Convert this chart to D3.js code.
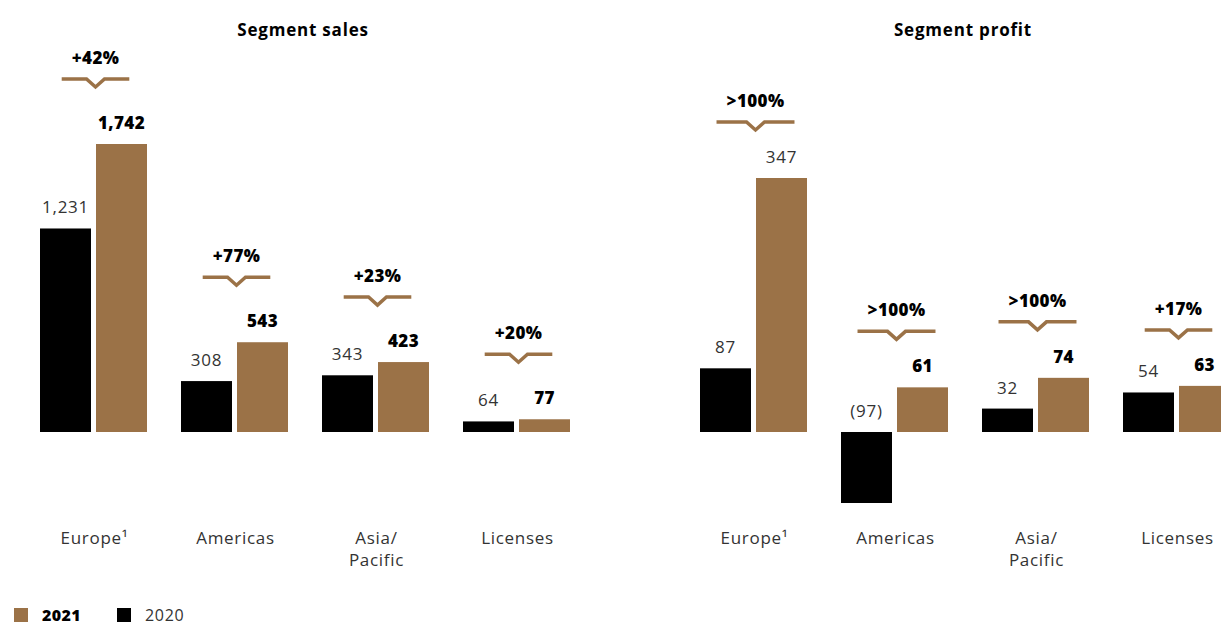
<!DOCTYPE html>
<html>
<head>
<meta charset="utf-8">
<script src="https://cdn.jsdelivr.net/npm/d3@7"></script>
<style>
  html, body { margin: 0; padding: 0; background: #fff; }
  svg { display: block; font-family: "Open Sans", "DejaVu Sans", sans-serif; font-variant-ligatures: none; }
</style>
</head>
<body>
<svg id="chart" width="1221" height="625"></svg>
<script>
// Segment figures, 2020 vs 2021
const categories = ["Europe\u00b9", "Americas", "Asia/\nPacific", "Licenses"];
const years = ["2020", "2021"];

const sales2020 = [1231, 308, 343, 64];
const sales2021 = [1742, 543, 423, 77];
const salesChange = ["+42%", "+77%", "+23%", "+20%"];

const profit2020 = [87, -97, 32, 54];
const profit2021 = [347, 61, 74, 63];
const profitChange = [">100%", ">100%", ">100%", "+17%"];

const GOLD = "#9b7247";
const BLACK = "#000000";
const TEXT = "#333333";

// 2021 value labels set in regular weight instead of bold: [panel, category index]
const regularLabels = [[1, 0]];

const svg = d3.select("#chart");

const panels = [
  { title: "Segment sales", v2020: sales2020, v2021: sales2021, change: salesChange,
    x0: 40, yMax: 1742, yTop: 144, chevronGap: 65 },
  { title: "Segment profit", v2020: profit2020, v2021: profit2021, change: profitChange,
    x0: 700, yMax: 347, yTop: 178, chevronGap: 56 }
];

const baseline = 432;
const fmt = v => v < 0 ? "(" + d3.format(",")(-v) + ")" : d3.format(",")(v);

function boldStyle(sel) {
  return sel.attr("font-size", 17).attr("font-weight", 800)
    .attr("letter-spacing", 0.4).attr("fill", BLACK);
}
function regularStyle(sel) {
  return sel.attr("font-size", 17).attr("font-weight", 400)
    .attr("letter-spacing", 0.7).attr("fill", TEXT);
}

panels.forEach((p, pi) => {
  const g = svg.append("g");

  const x = d3.scaleBand().domain(categories)
    .range([p.x0, p.x0 + 530]).paddingInner(34 / 141).paddingOuter(0);
  const xi = d3.scaleBand().domain(years)
    .range([0, x.bandwidth()]).paddingInner(5 / 56).paddingOuter(0);
  const y = d3.scaleLinear().domain([0, p.yMax]).range([baseline, p.yTop]);

  // title
  g.append("text")
    .attr("x", p.x0 + 263).attr("y", 36)
    .attr("text-anchor", "middle")
    .call(boldStyle)
    .attr("font-weight", 700)
    .attr("letter-spacing", 0.8)
    .text(p.title);

  const rows = categories.map((c, i) => ({
    cat: c,
    vals: [
      { year: "2020", v: p.v2020[i], bold: false },
      { year: "2021", v: p.v2021[i],
        bold: !regularLabels.some(r => r[0] === pi && r[1] === i) }
    ],
    change: p.change[i]
  }));

  const grp = g.selectAll("g.cat").data(rows).join("g")
    .attr("class", "cat")
    .attr("transform", d => `translate(${x(d.cat)},0)`);

  // bars
  grp.selectAll("rect").data(d => d.vals).join("rect")
    .attr("x", d => xi(d.year))
    .attr("width", xi.bandwidth())
    .attr("y", d => Math.min(y(d.v), y(0)))
    .attr("height", d => Math.abs(y(d.v) - y(0)))
    .attr("fill", d => d.year === "2021" ? GOLD : BLACK);

  // value labels
  grp.selectAll("text.val").data(d => d.vals).join("text")
    .attr("class", "val")
    .attr("x", d => xi(d.year) + xi.bandwidth() / 2)
    .attr("y", d => Math.min(y(d.v), y(0)) - 15)
    .attr("text-anchor", "middle")
    .each(function (d) { d3.select(this).call(d.bold ? boldStyle : regularStyle); })
    .text(d => fmt(d.v));

  // change indicators with chevron
  grp.each(function (d) {
    const cg = d3.select(this);
    const cx = x.bandwidth() / 2 + 2;
    const top = Math.min(...d.vals.map(v => Math.min(y(v.v), y(0))));
    const cy = top - p.chevronGap;
    const t = cg.append("text")
      .attr("x", cx).attr("y", cy - 15)
      .attr("text-anchor", "middle")
      .call(boldStyle)
      .text(d.change);
    const w = t.node().getComputedTextLength() + 20;
    cg.append("path")
      .attr("d", `M${cx - w / 2},${cy} H${cx - 9} L${cx},${cy + 8} L${cx + 9},${cy} H${cx + w / 2}`)
      .attr("fill", "none").attr("stroke", GOLD).attr("stroke-width", 3.5);
  });

  // category labels
  grp.each(function (d) {
    const lines = d.cat.split("\n");
    const t = d3.select(this).append("text")
      .attr("text-anchor", "middle")
      .call(regularStyle);
    lines.forEach((ln, k) => {
      t.append("tspan").attr("x", x.bandwidth() / 2 + 1).attr("y", 544 + k * 22).text(ln);
    });
  });
});

// legend
const legend = svg.append("g");
const legendItems = [
  { label: "2021", color: GOLD, bold: true, x: 14 },
  { label: "2020", color: BLACK, bold: false, x: 117 }
];
legendItems.forEach(it => {
  legend.append("rect").attr("x", it.x).attr("y", 608).attr("width", 14).attr("height", 14).attr("fill", it.color);
  legend.append("text").attr("x", it.x + 28).attr("y", 621)
    .call(it.bold ? boldStyle : regularStyle)
    .attr("font-size", 16)
    .text(it.label);
});
</script>
</body>
</html>
